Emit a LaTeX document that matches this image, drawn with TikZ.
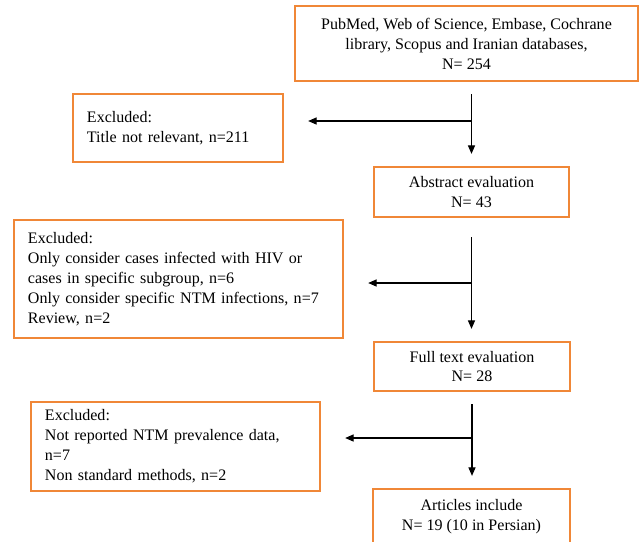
\documentclass[tikz,border=0pt]{standalone}
\usepackage{fontspec}
\setmainfont{Liberation Serif}
\usetikzlibrary{arrows.meta}
\definecolor{boxorange}{RGB}{240,135,55}

\tikzset{
	flowbox/.style = {draw=boxorange, line width=1.6pt, inner ysep=0pt,
		font=\fontsize{11.4}{14.2}\selectfont},
	midbox/.style = {flowbox, align=center, inner xsep=0pt},
	exbox/.style = {flowbox, align=left, inner xsep=0.35cm},
	flowarrow/.style = {-{Triangle[length=6pt,width=5pt]}, line width=0.8pt,
		shorten <=0.3cm, shorten >=0.3cm},
	sidearrow/.style = {-{Triangle[length=6pt,width=5pt]}, line width=0.8pt,
		shorten >=0.6cm}
}

\begin{document}
\begin{tikzpicture}[x=0.025cm, y=-0.025cm]
	\useasboundingbox (0,0) rectangle (639,541);
	\clip (0,0) rectangle (639,541);

	\node[midbox, minimum width=8.575cm, minimum height=1.875cm] (src) at (466.5, 43.5)
		{PubMed, Web of Science, Embase, Cochrane\\ library, Scopus and Iranian databases,\\ N= 254};
	\node[exbox, text width=4.55cm, minimum height=1.7cm] (ex1) at (178, 128)
		{Excluded:\\ Title not relevant, n=211};
	\node[midbox, minimum width=4.875cm, minimum height=1.25cm] (abs) at (471.5, 192)
		{Abstract evaluation\\ N= 43};
	\node[exbox, text width=7.525cm, minimum height=2.95cm] (ex2) at (178.5, 279)
		{Excluded:\\ Only consider cases infected with HIV or\\ cases in specific subgroup, n=6\\
		 Only consider specific NTM infections, n=7\\ Review, n=2};
	\node[midbox, minimum width=4.9cm, minimum height=1.225cm] (full) at (472, 366.5)
		{Full text evaluation\\ N= 28};
	\node[exbox, text width=6.525cm, minimum height=2.225cm] (ex3) at (175.5, 446.5)
		{Excluded:\\ Not reported NTM prevalence data,\\ n=7\\ Non standard methods, n=2};
	\node[midbox, minimum width=4.925cm, minimum height=1.4cm] (art) at (471.5, 517)
		{Articles include\\ N= 19 (10 in Persian)};

	\coordinate (b1) at (472, 121);
	\coordinate (b2) at (472, 283);
	\coordinate (b3) at (472, 438);

	\draw [flowarrow] (src.south -| abs.north) -- (abs.north);
	\draw [flowarrow, shorten <=0.475cm] (abs.south) -- (abs.south |- full.north);
	\draw [flowarrow] (full.south) -- (full.south |- art.north);

	\draw [sidearrow] (b1) -- (b1 -| ex1.east);
	\draw [sidearrow] (b2) -- (b2 -| ex2.east);
	\draw [sidearrow] (b3) -- (b3 -| ex3.east);
\end{tikzpicture}
\end{document}
